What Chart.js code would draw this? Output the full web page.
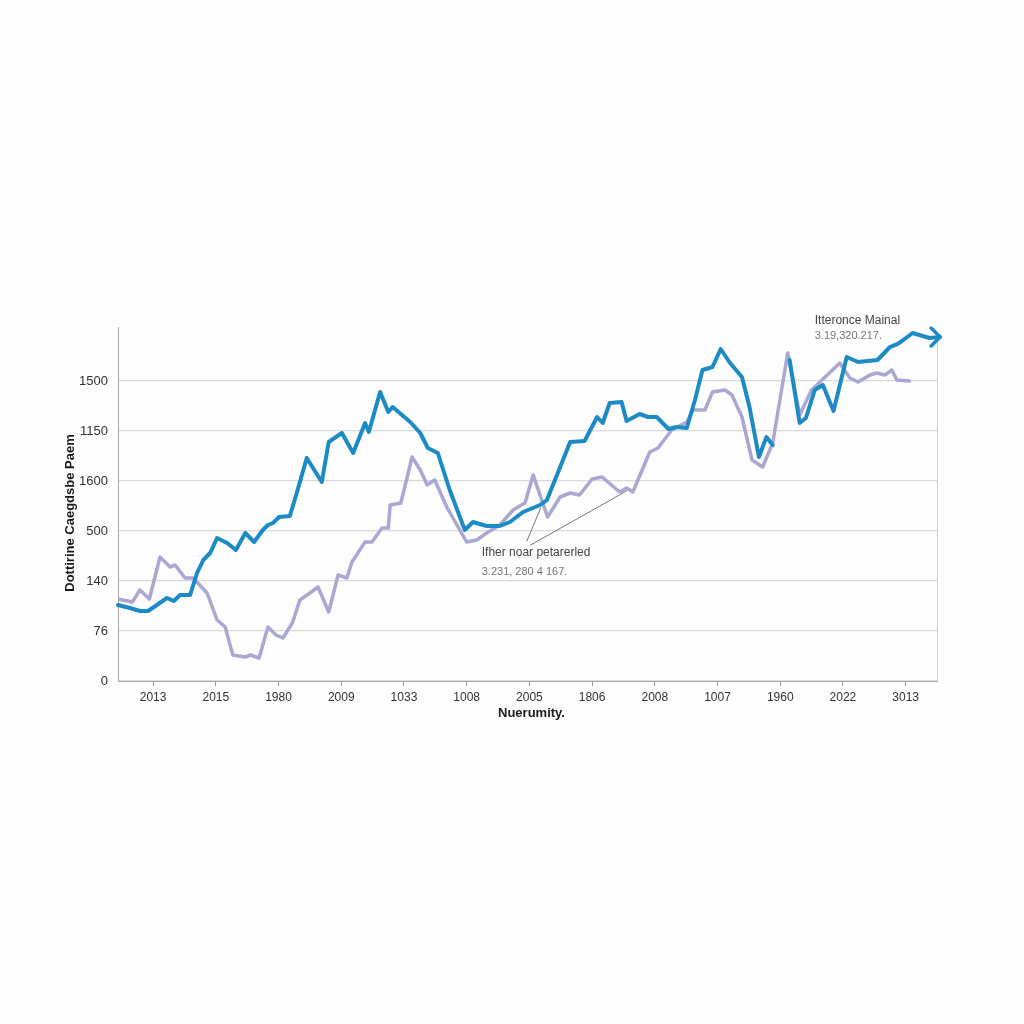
<!DOCTYPE html>
<html lang="en">
<head>
    <meta charset="UTF-8">
    <title>Dottirine Caegdsbe Paem</title>
    <script src="https://cdn.jsdelivr.net/npm/chart.js"></script>
    <style>
        body {
            margin: 0;
            background: #fdfdfd;
            font-family: 'Liberation Sans', Arial, sans-serif;
        }
        .chart-wrapper {
            position: relative;
            width: 1024px;
            height: 1024px;
        }
    </style>
</head>
<body>
    <div class="chart-wrapper">
        <canvas id="lineChart"></canvas>
    </div>

    <script>
        // tick labels as printed on the picture
        const xLabels = ['2013', '2015', '1980', '2009', '1033', '1008', '2005', '1806', '2008', '1007', '1960', '2022', '3013'];
        const yLabels = ['0', '76', '140', '500', '1600', '1150', '1500'];

        // x in tick-index units, y in gridline units (labels are not evenly valued)
        const blueX = [-0.56, -0.37, -0.21, -0.08, 0.06, 0.22, 0.33, 0.43, 0.59, 0.70, 0.80, 0.91, 1.02, 1.18, 1.32, 1.47, 1.61, 1.75, 1.83, 1.91,
            2.01, 2.18, 2.29, 2.45, 2.57, 2.69, 2.80, 3.01, 3.19, 3.38, 3.44, 3.62, 3.75, 3.82, 4.10, 4.26, 4.38, 4.54, 4.73, 4.97,
            5.10, 5.32, 5.53, 5.69, 5.90, 6.17, 6.28, 6.44, 6.65, 6.88, 7.08, 7.17, 7.28, 7.47, 7.55, 7.76, 7.89, 8.03, 8.22, 8.35,
            8.51, 8.64, 8.76, 8.92, 9.05, 9.20, 9.39, 9.51, 9.66, 9.78, 9.88, 10.0, 10.15, 10.31, 10.41, 10.55, 10.68, 10.85, 11.06, 11.24,
            11.55, 11.75, 11.90, 12.11, 12.38, 12.55];
        const blueY = [1.52, 1.46, 1.40, 1.40, 1.52, 1.66, 1.60, 1.72, 1.72, 2.16, 2.42, 2.56, 2.86, 2.76, 2.62, 2.96, 2.78, 3.02, 3.12, 3.16,
            3.28, 3.30, 3.76, 4.46, 4.22, 3.98, 4.78, 4.96, 4.56, 5.16, 4.98, 5.78, 5.38, 5.48, 5.18, 4.96, 4.66, 4.56, 3.82, 3.02,
            3.18, 3.10, 3.10, 3.18, 3.38, 3.52, 3.62, 4.12, 4.78, 4.80, 5.28, 5.16, 5.56, 5.58, 5.20, 5.34, 5.28, 5.28, 5.04, 5.08,
            5.06, 5.62, 6.22, 6.28, 6.64, 6.36, 6.08, 5.48, 4.48, 4.88, 4.72, null, 6.42, 5.16, 5.26, 5.82, 5.92, 5.40, 6.48, 6.38,
            6.42, 6.68, 6.76, 6.96, 6.86, 6.88];

        const purpleX = [-0.56, -0.33, -0.21, -0.06, 0.11, 0.27, 0.35, 0.51, 0.64, 0.86, 1.02, 1.15, 1.27, 1.47, 1.55, 1.69, 1.83, 1.96, 2.07, 2.22,
            2.34, 2.50, 2.63, 2.80, 2.95, 3.09, 3.17, 3.38, 3.49, 3.65, 3.75, 3.78, 3.95, 4.13, 4.26, 4.37, 4.49, 4.69, 5.00, 5.16,
            5.32, 5.53, 5.74, 5.93, 6.06, 6.29, 6.49, 6.65, 6.80, 7.00, 7.16, 7.44, 7.55, 7.65, 7.92, 8.05, 8.27, 8.51, 8.61, 8.80,
            8.92, 9.12, 9.23, 9.39, 9.55, 9.72, 9.88, 10.12, 10.31, 10.50, 10.95, 11.11, 11.24, 11.43, 11.54, 11.67, 11.78, 11.86, 12.06];
        const purpleY = [1.64, 1.58, 1.82, 1.64, 2.48, 2.28, 2.32, 2.06, 2.06, 1.76, 1.22, 1.08, 0.52, 0.48, 0.52, 0.46, 1.08, 0.92, 0.86, 1.16,
            1.62, 1.76, 1.88, 1.38, 2.12, 2.06, 2.38, 2.78, 2.78, 3.06, 3.06, 3.52, 3.56, 4.48, 4.22, 3.92, 4.02, 3.46, 2.78, 2.82,
            2.96, 3.12, 3.42, 3.56, 4.12, 3.28, 3.68, 3.76, 3.72, 4.04, 4.08, 3.78, 3.86, 3.78, 4.58, 4.66, 5.02, 5.18, 5.42, 5.42,
            5.78, 5.82, 5.72, 5.28, 4.42, 4.28, 4.76, 6.56, 5.32, 5.82, 6.36, 6.06, 5.98, 6.12, 6.16, 6.12, 6.22, 6.02, 6.00];

        // short lilac stroke riding on the blue line near the end
        const tailX = [11.59, 11.73, 11.86, 11.94];
        const tailY = [6.46, 6.66, 6.72, 6.82];

        const blueColor = '#1c8ac5';
        const purpleColor = '#aaa8d2';

        function toPoints(xs, ys) {
            return xs.map((x, i) => ({ x: x, y: ys[i] }));
        }

        // titles, notes, right frame and arrow head
        const decorations = {
            id: 'decorations',
            afterDatasetsDraw(chart) {
                const ctx = chart.ctx;
                const xs = chart.scales.x;
                const ys = chart.scales.y;
                const area = chart.chartArea;

                // right frame line
                ctx.save();
                ctx.strokeStyle = '#cfcfcf';
                ctx.lineWidth = 1;
                ctx.beginPath();
                ctx.moveTo(area.right + 0.5, area.top + 12);
                ctx.lineTo(area.right + 0.5, area.bottom);
                ctx.stroke();

                // arrow head at the end of the blue line
                const n = blueX.length - 1;
                const tx = xs.getPixelForValue(blueX[n]);
                const ty = ys.getPixelForValue(blueY[n]);
                ctx.strokeStyle = blueColor;
                ctx.lineWidth = 3.5;
                ctx.lineCap = 'round';
                ctx.lineJoin = 'round';
                ctx.beginPath();
                ctx.moveTo(tx - 9, ty - 9);
                ctx.lineTo(tx, ty);
                ctx.lineTo(tx - 9, ty + 9);
                ctx.stroke();

                // leader lines of the middle note
                ctx.strokeStyle = '#555';
                ctx.lineWidth = 0.8;
                ctx.beginPath();
                ctx.moveTo(xs.getPixelForValue(5.96), ys.getPixelForValue(2.80));
                ctx.lineTo(xs.getPixelForValue(6.18), ys.getPixelForValue(3.46));
                ctx.moveTo(xs.getPixelForValue(6.02), ys.getPixelForValue(2.72));
                ctx.lineTo(xs.getPixelForValue(7.55), ys.getPixelForValue(3.80));
                ctx.stroke();

                // notes
                ctx.textAlign = 'left';
                ctx.textBaseline = 'middle';
                ctx.font = '12px "Liberation Sans", Arial, sans-serif';
                ctx.fillStyle = '#444';
                ctx.fillText('Ifher noar petarerled', xs.getPixelForValue(5.24), ys.getPixelForValue(2.56));
                ctx.fillText('Itteronce Mainal', xs.getPixelForValue(10.55), ys.getPixelForValue(7.2));
                ctx.font = '11px "Liberation Sans", Arial, sans-serif';
                ctx.fillStyle = '#777';
                ctx.fillText('3.231, 280 4 167.', xs.getPixelForValue(5.24), ys.getPixelForValue(2.18));
                ctx.fillText('3.19,320.217.', xs.getPixelForValue(10.55), ys.getPixelForValue(6.9));

                // axis titles
                ctx.fillStyle = '#1a1a1a';
                ctx.font = 'bold 13px "Liberation Sans", Arial, sans-serif';
                ctx.textAlign = 'center';
                ctx.fillText('Nuerumity.', (area.left + area.right) / 2 + 4, area.bottom + 32);
                ctx.translate(70, 513);
                ctx.rotate(-Math.PI / 2);
                ctx.fillText('Dottirine Caegdsbe Paem', 0, 0);
                ctx.restore();
            }
        };

        const config = {
            type: 'line',
            data: {
                datasets: [
                    {
                        label: 'Blue',
                        data: toPoints(blueX, blueY),
                        borderColor: blueColor,
                        borderWidth: 4,
                        pointRadius: 0,
                        tension: 0,
                        spanGaps: false,
                        clip: false
                    },
                    {
                        label: 'Lilac tail',
                        data: toPoints(tailX, tailY),
                        borderColor: purpleColor,
                        borderWidth: 3,
                        pointRadius: 0,
                        tension: 0
                    },
                    {
                        label: 'Lilac',
                        data: toPoints(purpleX, purpleY),
                        borderColor: purpleColor,
                        borderWidth: 3.5,
                        pointRadius: 0,
                        tension: 0
                    }
                ]
            },
            options: {
                responsive: true,
                maintainAspectRatio: false,
                animation: false,
                layout: {
                    padding: { top: 327, right: 87, left: 0, bottom: 0 }
                },
                elements: {
                    line: { borderJoinStyle: 'round', borderCapStyle: 'round' }
                },
                plugins: {
                    legend: { display: false },
                    tooltip: { enabled: false }
                },
                scales: {
                    x: {
                        type: 'linear',
                        min: -0.56,
                        max: 12.5,
                        afterFit: function(scale) { scale.height = 343; },
                        afterBuildTicks: function(scale) {
                            scale.ticks = xLabels.map((_, i) => ({ value: i }));
                        },
                        grid: {
                            drawOnChartArea: false,
                            drawTicks: true,
                            tickLength: 5,
                            color: '#999'
                        },
                        border: { display: true, color: '#aaa' },
                        ticks: {
                            autoSkip: false,
                            maxRotation: 0,
                            padding: 4,
                            color: '#333',
                            font: { family: 'Liberation Sans', size: 12 },
                            callback: function(value) {
                                return xLabels[value] !== undefined ? xLabels[value] : '';
                            }
                        }
                    },
                    y: {
                        type: 'linear',
                        min: 0,
                        max: 7.08,
                        afterFit: function(scale) { scale.width = 118; },
                        afterBuildTicks: function(scale) {
                            scale.ticks = yLabels.map((_, i) => ({ value: i }));
                        },
                        grid: {
                            color: '#dadada',
                            lineWidth: 1.2,
                            drawTicks: false
                        },
                        border: { display: true, color: '#aaa' },
                        ticks: {
                            padding: 10,
                            color: '#333',
                            font: { family: 'Liberation Sans', size: 13 },
                            callback: function(value) {
                                return yLabels[value] !== undefined ? yLabels[value] : '';
                            }
                        }
                    }
                }
            },
            plugins: [decorations]
        };

        const ctx = document.getElementById('lineChart').getContext('2d');
        const lineChart = new Chart(ctx, config);
    </script>
</body>
</html>
